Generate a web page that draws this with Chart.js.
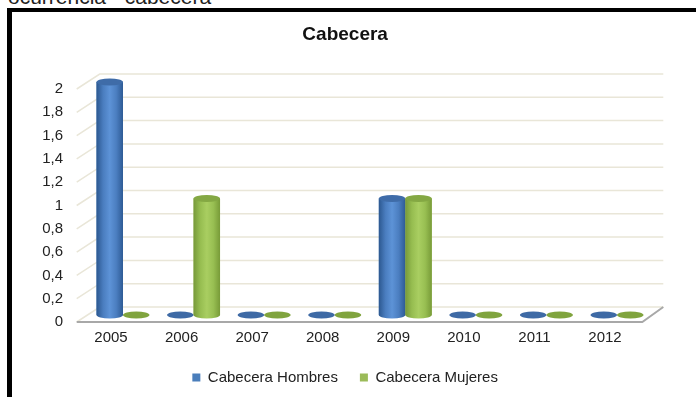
<!DOCTYPE html>
<html>
<head>
<meta charset="utf-8">
<script src="https://cdn.jsdelivr.net/npm/chart.js@4.4.0/dist/chart.umd.min.js"></script>
<style>
  html, body { margin: 0; padding: 0; background: #fff; overflow: hidden; }
  #wrap { position: relative; width: 696px; height: 397px; overflow: hidden; }
  #cap { position: absolute; left: 8px; top: -14px; font: 21px "Liberation Sans", Arial, sans-serif; line-height: 21px; color: #222; white-space: nowrap; }
  #frame { position: absolute; left: 7px; top: 8px; width: 720px; height: 420px; border-left: 5px solid #000; border-top: 4px solid #000; pointer-events: none; }
  canvas { position: absolute; left: 0; top: 0; }
</style>
</head>
<body>
<div id="wrap">
  <div id="cap">ocurrencia - cabecera</div>
  <canvas id="chart" width="696" height="397"></canvas>
  <div id="frame"></div>
</div>
<script>
const years = ['2005', '2006', '2007', '2008', '2009', '2010', '2011', '2012'];
const hombres = [2, 0, 0, 0, 1, 0, 0, 0];
const mujeres = [0, 1, 0, 0, 1, 0, 0, 0];

const FONT = '"Liberation Sans", Arial, sans-serif';

// colours for the fake cylinders
const palettes = [
    { body: ['#2c5890', '#4a7dbf', '#5d93d7', '#4b7ec0', '#2e5b95'], top: '#3f6ca8', flat: '#3e6aa5' },
    { body: ['#77993a', '#96bd50', '#a9ce61', '#98bf52', '#789b38'], top: '#84a843', flat: '#80a43e' }
];

// back wall grid + floor, faked 3D look
const walls = {
    id: 'walls',
    beforeDatasetsDraw(chart) {
        const { ctx, chartArea: a, scales: { y } } = chart;
        ctx.save();
        ctx.strokeStyle = '#e9e6d8';
        ctx.lineWidth = 1.5;
        y.ticks.forEach(t => {
            const p = y.getPixelForValue(t.value);
            ctx.beginPath();
            ctx.moveTo(a.left - 11, p + 7);
            ctx.lineTo(a.left + 12, p - 8);
            ctx.lineTo(a.right + 11, p - 8);
            ctx.stroke();
        });
        const p0 = y.getPixelForValue(0);
        ctx.strokeStyle = '#a8a8a8';
        ctx.lineWidth = 2;
        ctx.beginPath();
        ctx.moveTo(a.left - 11, p0 + 7);
        ctx.lineTo(a.right - 10, p0 + 7);
        ctx.lineTo(a.right + 11, p0 - 8);
        ctx.stroke();
        ctx.restore();
    }
};

// repaint each bar as a cylinder
const cylinders = {
    id: 'cylinders',
    afterDatasetsDraw(chart) {
        const ctx = chart.ctx;
        chart.data.datasets.forEach((ds, i) => {
            const pal = palettes[i];
            chart.getDatasetMeta(i).data.forEach(bar => {
                const { x, y, base, width } = bar.getProps(['x', 'y', 'base', 'width'], true);
                const l = x - width / 2, r = x + width / 2, rx = width / 2, ry = 3.5;
                ctx.save();
                if (base - y > 0.5) {
                    const g = ctx.createLinearGradient(l, 0, r, 0);
                    pal.body.forEach((c, k) => g.addColorStop(k / (pal.body.length - 1), c));
                    ctx.fillStyle = g;
                    ctx.beginPath();
                    ctx.moveTo(l, y);
                    ctx.lineTo(l, base);
                    ctx.ellipse(x, base, rx, ry, 0, Math.PI, 0, true);
                    ctx.lineTo(r, y);
                    ctx.closePath();
                    ctx.fill();
                    ctx.fillStyle = pal.top;
                    ctx.beginPath();
                    ctx.ellipse(x, y, rx, ry, 0, 0, Math.PI * 2);
                    ctx.fill();
                } else {
                    ctx.fillStyle = pal.flat;
                    ctx.beginPath();
                    ctx.ellipse(x, base, rx, ry, 0, 0, Math.PI * 2);
                    ctx.fill();
                }
                ctx.restore();
            });
        });
    }
};

new Chart(document.getElementById('chart'), {
    type: 'bar',
    data: {
        labels: years,
        datasets: [{
            label: 'Cabecera Hombres',
            data: hombres,
            backgroundColor: '#4a7ebb'
        }, {
            label: 'Cabecera Mujeres',
            data: mujeres,
            backgroundColor: '#9bbb59'
        }]
    },
    options: {
        responsive: false,
        animation: false,
        layout: { padding: { left: 38, right: 43.7, top: 10, bottom: 2 } },
        datasets: { bar: { barPercentage: 1, categoryPercentage: 0.75 } },
        plugins: {
            title: {
                display: true,
                text: 'Cabecera',
                color: '#111',
                font: { family: FONT, size: 19, weight: 'bold' },
                padding: { top: 13.6, bottom: 35.6 }
            },
            legend: {
                position: 'bottom',
                labels: {
                    boxWidth: 8,
                    boxHeight: 8,
                    padding: 22,
                    color: '#222',
                    font: { family: FONT, size: 15 }
                }
            },
            tooltip: { enabled: false }
        },
        scales: {
            x: {
                grid: { display: false, drawTicks: false },
                border: { display: false },
                ticks: { color: '#222', padding: 14, labelOffset: -12, font: { family: FONT, size: 15 } },
                afterFit(s) { s.height = 33; }
            },
            y: {
                min: 0,
                max: 2,
                grid: { display: false, drawTicks: false },
                border: { display: false },
                ticks: {
                    stepSize: 0.2,
                    padding: 24.7,
                    labelOffset: 7,
                    color: '#222',
                    font: { family: FONT, size: 15 },
                    callback: v => String(Math.round(v * 10) / 10).replace('.', ',')
                },
                afterFit(s) { s.width = 49.7; }
            }
        }
    },
    plugins: [walls, cylinders]
});
</script>
</body>
</html>
